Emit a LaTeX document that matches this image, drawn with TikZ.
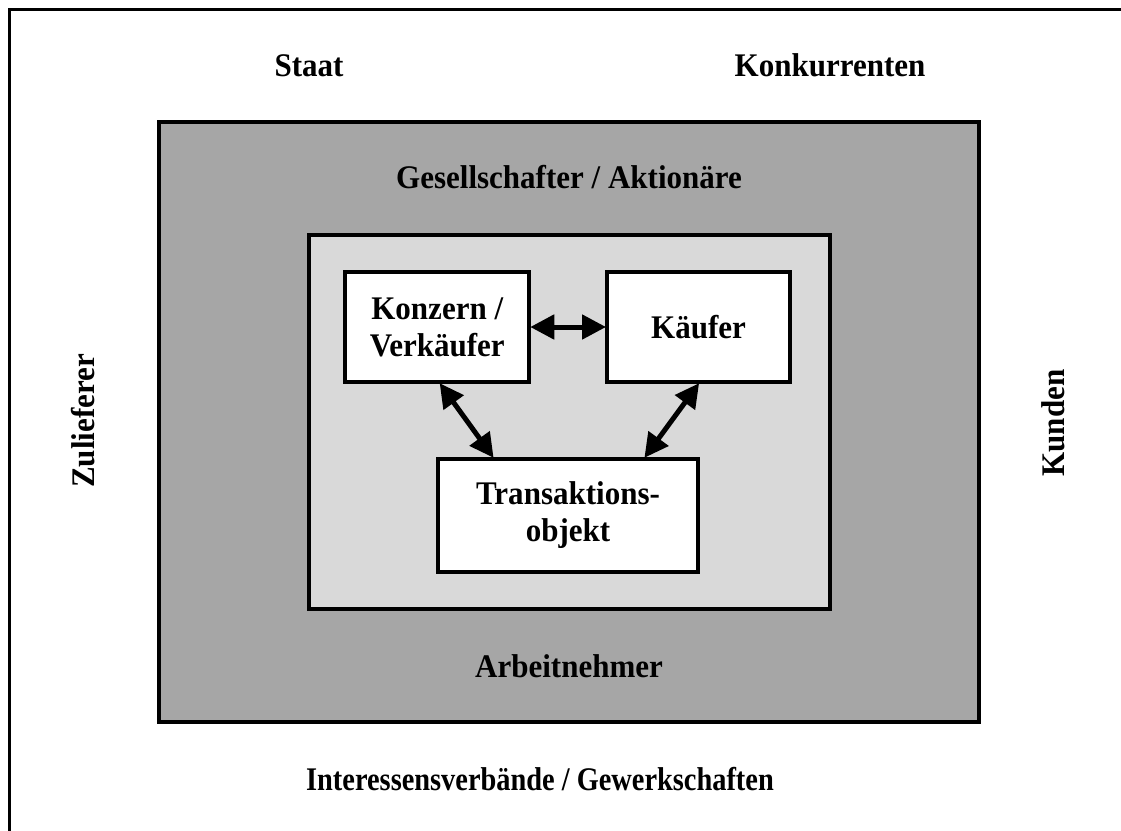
\documentclass[tikz,border=0pt]{standalone}
\usepackage{fontspec}
\setmainfont{Liberation Serif}[FakeStretch=0.94]
\newfontfamily\condfont{Liberation Serif}[FakeStretch=0.86]
\usetikzlibrary{arrows.meta}
\definecolor{outergray}{HTML}{A6A6A6}
\definecolor{innergray}{HTML}{D9D9D9}
\begin{document}
\begin{tikzpicture}[x=1pt,y=-1pt,
  lbl/.style={font=\fontsize{33}{37}\selectfont\bfseries, inner sep=0pt, align=center},
  partybox/.style={draw=black, line width=4pt, fill=white, inner sep=0pt,
    font=\fontsize{33}{37}\selectfont\bfseries, align=center},
  linkarrow/.style={line width=5pt, {Triangle[length=24pt,width=24pt]}-{Triangle[length=24pt,width=24pt]}, shorten <=-1pt, shorten >=-1pt}
]
\useasboundingbox (0,0) rectangle (1121,830);
\fill[white] (0,0) rectangle (1121,830);

% outer frame (only top and left edges fall inside the page)
\draw[line width=3.5pt] (9.5,835) -- (9.5,9.5) -- (1126,9.5);

% environment labels
\node[lbl, anchor=base] (staat) at (309,76.5) {Staat};
\node[lbl, anchor=base] (konk) at (830,76.5) {Konkurrenten};
\node[lbl, rotate=90] (zul) at (83,421) {Zulieferer};
\node[lbl, rotate=90] (kunden) at (1053,423) {Kunden};
\node[lbl, anchor=base, font=\fontsize{33}{37}\selectfont\condfont\bfseries] (verb) at (540,790) {Interessensverbände / Gewerkschaften};

% company layer
\draw[line width=4pt, fill=outergray] (159,121.5) rectangle (979,722);
\node[lbl, anchor=base] (ges) at (569,188) {Gesellschafter / Aktionäre};
\node[lbl, anchor=base] (arb) at (569,677) {Arbeitnehmer};

% transaction layer
\draw[line width=4pt, fill=innergray] (308.5,234.5) rectangle (830,608.5);

\node[partybox, minimum width=184pt, minimum height=110pt] (konz) at (437.25,327) {Konzern /\\Verkäufer};
\node[partybox, minimum width=183pt, minimum height=110pt] (kaeufer) at (698.5,327) {Käufer};
\node[partybox, minimum width=260pt, minimum height=113pt] (trans) at (568,515.5) {Transaktions-\\objekt};

% relations
\draw[linkarrow] (konz.east) -- (kaeufer.west);
\draw[linkarrow] ([xshift=3pt]konz.south) -- ([xshift=-75pt]trans.north);
\draw[linkarrow] ([xshift=0pt]kaeufer.south) -- ([xshift=77pt]trans.north);
\end{tikzpicture}
\end{document}
